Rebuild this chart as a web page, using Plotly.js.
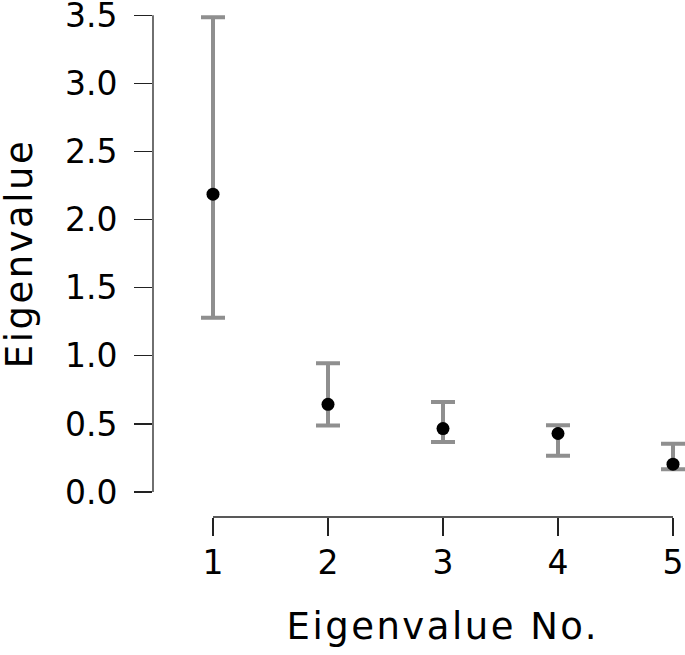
<!DOCTYPE html>
<html>
<head>
<meta charset="utf-8">
<script src="https://cdn.plot.ly/plotly-3.0.1.min.js"></script>
<style>
html,body{margin:0;padding:0;background:#fff;}
#chart{width:685px;height:655px;}
.annotation-text-g text{letter-spacing:2.5px;}
</style>
</head>
<body>
<div id="chart"></div>
<script>
var eigenNo = [1, 2, 3, 4, 5];
var eigenValue = [2.187, 0.644, 0.466, 0.430, 0.205];
var upperCI = [3.485, 0.945, 0.661, 0.490, 0.354];
var lowerCI = [1.279, 0.488, 0.368, 0.266, 0.168];
var yTicks = [0, 0.5, 1, 1.5, 2, 2.5, 3, 3.5];
var yTickText = ['0.0', '0.5', '1.0', '1.5', '2.0', '2.5', '3.0', '3.5'];
var xTickText = ['1', '2', '3', '4', '5'];
var xTitle = 'Eigenvalue No.';
var yTitle = 'Eigenvalue';

var errPlus = eigenValue.map(function (v, i) { return upperCI[i] - v; });
var errMinus = eigenValue.map(function (v, i) { return v - lowerCI[i]; });

var font = 'DejaVu Sans, sans-serif';
var axisColor = '#222';
var xMid = (eigenNo[0] + eigenNo[eigenNo.length - 1]) / 2;
var yMid = (yTicks[0] + yTicks[yTicks.length - 1]) / 2;

var trace = {
  x: eigenNo, y: eigenValue, type: 'scatter', mode: 'markers',
  marker: {color: '#000', size: 13},
  error_y: {type: 'data', array: errPlus, arrayminus: errMinus, symmetric: false,
            color: '#8f8f8f', thickness: 4, width: 12},
  cliponaxis: false, hoverinfo: 'skip', showlegend: false
};

var layout = {
  width: 685, height: 655,
  margin: {l: 153, r: 0, t: 15, b: 138},
  paper_bgcolor: '#fff', plot_bgcolor: '#fff',
  font: {family: font, color: '#000'},
  xaxis: {
    range: [0.4783, 5.1043], showgrid: false, zeroline: false, showline: false,
    tickmode: 'array', tickvals: eigenNo, ticktext: xTickText,
    ticks: 'outside', ticklen: 18, tickwidth: 1.3, tickcolor: axisColor,
    tickfont: {size: 33, family: font, color: '#000'}, ticklabelstandoff: -2,
    ticklabeloverflow: 'allow',
    automargin: false, fixedrange: true
  },
  yaxis: {
    range: [-0.1831, 3.502], showgrid: false, zeroline: false, showline: false,
    tickmode: 'array', tickvals: yTicks, ticktext: yTickText,
    ticks: 'outside', ticklen: 18, tickwidth: 1.3, tickcolor: axisColor,
    tickfont: {size: 33, family: font, color: '#000'}, ticklabelstandoff: 10,
    ticklabeloverflow: 'allow',
    automargin: false, fixedrange: true
  },
  annotations: [
    {text: xTitle, xref: 'x', yref: 'paper', x: xMid, y: -0.2187,
     xanchor: 'center', yanchor: 'middle', showarrow: false,
     font: {size: 37, family: font, color: '#000'}},
    {text: yTitle, xref: 'paper', yref: 'y', x: -0.2500, y: yMid, textangle: -90,
     xanchor: 'center', yanchor: 'middle', showarrow: false,
     font: {size: 37, family: font, color: '#000'}}
  ],
  shapes: [
    {type: 'line', xref: 'x', yref: 'paper', x0: eigenNo[0], x1: eigenNo[eigenNo.length - 1], y0: 0, y1: 0,
     line: {color: axisColor, width: 1.3}},
    {type: 'line', xref: 'paper', yref: 'y', x0: 0, x1: 0, y0: yTicks[0], y1: yTicks[yTicks.length - 1],
     line: {color: axisColor, width: 1.3}}
  ]
};

Plotly.newPlot('chart', [trace], layout, {displayModeBar: false, staticPlot: true});
</script>
</body>
</html>
